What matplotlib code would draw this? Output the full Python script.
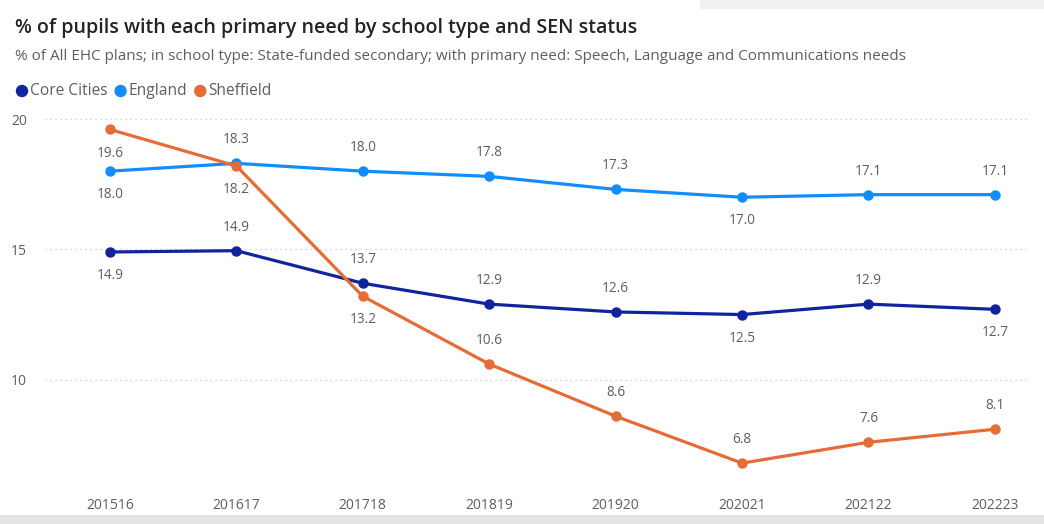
import numpy as np
import matplotlib.pyplot as plt
from matplotlib.patches import Rectangle, Ellipse

# --------------------------
# Data
# --------------------------
years = ["201516", "201617", "201718", "201819", "201920", "202021", "202122", "202223"]
core_cities = [14.9, 14.95, 13.7, 12.9, 12.6, 12.5, 12.9, 12.7]
england = [18.0, 18.3, 18.0, 17.8, 17.3, 17.0, 17.1, 17.1]
sheffield = [19.6, 18.2, 13.2, 10.6, 8.6, 6.8, 7.6, 8.1]

# label placement per point: 1 above, -1 below
core_pos = [-1, 1, 1, 1, 1, -1, 1, -1]
england_pos = [-1, 1, 1, 1, 1, -1, 1, 1]
sheffield_pos = [-1, -1, -1, 1, 1, 1, 1, 1]

series = [
    ("Core Cities", core_cities, "#12239E", core_pos),
    ("England", england, "#118DFF", england_pos),
    ("Sheffield", sheffield, "#E66C37", sheffield_pos),
]

FONT = "Open Sans"
GREY = "#605E5C"
W, H = 1044, 524

fig = plt.figure(figsize=(W / 100, H / 100), dpi=100)
fig.patch.set_facecolor("white")

# card shadow bits
fig.patches.append(Rectangle((0, 0), 1, 9 / H, transform=fig.transFigure,
                             facecolor="#e4e4e4", edgecolor="none", zorder=0))
fig.patches.append(Rectangle((700 / W, 1 - 9 / H), 1, 9 / H, transform=fig.transFigure,
                             facecolor="#f0f0f0", edgecolor="none", zorder=0))

ax = fig.add_axes([45 / W, 1 - 484 / H, (1030 - 45) / W, (484 - 106) / H])
x = np.arange(len(years))

for name, vals, color, pos in series:
    ax.plot(x, vals, color=color, lw=2.3, marker="o", ms=6.5, zorder=3, label=name)
    for xi, v, p in zip(x, vals, pos):
        ax.annotate(f"{int(v * 10) / 10:.1f}", (xi, v), xytext=(0, 17 * p), textcoords="offset points",
                    ha="center", va="center", fontsize=9.8, color=GREY, family=FONT)

ax.set_xlim(-0.514, 7.278)
ax.set_ylim(6.0, 20.5)
ax.set_yticks([10, 15, 20])
ax.set_xticks(x)
ax.set_xticklabels(years)
ax.grid(axis="y", color="#c8c8c8", linestyle=(0, (1, 3)), lw=0.9)
for s in ax.spines.values():
    s.set_visible(False)
ax.tick_params(length=0, labelsize=10, labelcolor=GREY, pad=10)
ax.tick_params(axis="y", pad=13)
for lab in ax.get_xticklabels() + ax.get_yticklabels():
    lab.set_family(FONT)

# titles
fig.text(15 / W, 1 - 28 / H, "% of pupils with each primary need by school type and SEN status",
         fontsize=14.1, color="#252423", family=FONT, weight="semibold", va="center")
fig.text(15 / W, 1 - 57 / H,
         "% of All EHC plans; in school type: State-funded secondary; with primary need: Speech, Language and Communications needs",
         fontsize=11, color=GREY, family=FONT, va="center")

# legend
lx = 16
for name, vals, color, pos in series:
    fig.patches.append(Ellipse(((lx + 6) / W, 1 - 91 / H), 11 / W, 11 / H, transform=fig.transFigure,
                               color=color))
    t = fig.text((lx + 14) / W, 1 - 91 / H, name, fontsize=11.2, color=GREY, family=FONT, va="center")
    fig.canvas.draw()
    bb = t.get_window_extent()
    lx = bb.x1 + 7

fig.savefig("out.png", dpi=100)
